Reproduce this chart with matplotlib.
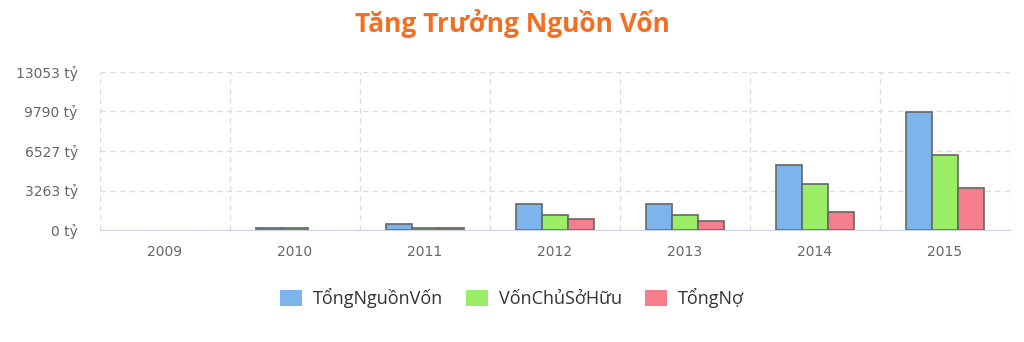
import matplotlib

matplotlib.use("Agg")

import matplotlib.pyplot as plt
import numpy as np

years = ["2009", "2010", "2011", "2012", "2013", "2014", "2015"]
tong_nguon_von = [0, 200, 470, 2150, 2150, 5370, 9750]
von_chu_so_huu = [0, 200, 200, 1240, 1240, 3800, 6170]
tong_no = [0, 0, 200, 900, 770, 1460, 3490]
y_ticks = [0, 3263, 6527, 9790, 13053]

series = [
    ("TổngNguồnVốn", tong_nguon_von, "#7cb5ec"),
    ("VốnChủSởHữu", von_chu_so_huu, "#99ee66"),
    ("TổngNợ", tong_no, "#f47f8a"),
]

plt.rcParams["font.family"] = ["Open Sans", "DejaVu Sans"]

fig = plt.figure(figsize=(10.24, 3.42), dpi=100)
ax = fig.add_axes([100 / 1024, 112 / 342, 910 / 1024, 158 / 342])

x = np.arange(len(years))
width = 0.2
for i, (name, values, color) in enumerate(series):
    # zero-height bars get no outline, like the original
    lw = [1.2 if v > 0 else 0 for v in values]
    ax.bar(x + (i - 1) * width, values, width, color=color, edgecolor="#666666",
           linewidth=lw, label=name, zorder=3)

ax.set_xlim(-0.5, len(years) - 0.5)
ax.set_ylim(0, y_ticks[-1])
ax.set_yticks(y_ticks)
ax.set_yticklabels([f"{v} tỷ" for v in y_ticks], family="DejaVu Sans")
ax.set_xticks(x)
ax.set_xticklabels(years, family="DejaVu Sans")
ax.tick_params(axis="both", length=0, labelsize=10, colors="#666666")
ax.tick_params(axis="y", pad=16)
ax.tick_params(axis="x", pad=11)

ax.grid(axis="y", color="#dddddd", linestyle=(0, (4, 3)), linewidth=1, zorder=0)
ax.set_xticks(np.arange(len(years) + 1) - 0.5, minor=True)
ax.tick_params(axis="x", which="minor", length=0)
ax.grid(axis="x", which="minor", color="#dddddd", linestyle=(0, (4, 3)), linewidth=1, zorder=0)
ax.grid(axis="x", which="major", visible=False)

for side in ["top", "left", "right"]:
    ax.spines[side].set_visible(False)
ax.spines["bottom"].set_color("#ccd6eb")
ax.spines["bottom"].set_zorder(4)

fig.text(0.5, 1 - 24 / 342, "Tăng Trưởng Nguồn Vốn", ha="center", va="center",
         fontsize=19, fontweight="bold", color="#f26f21")

leg = fig.legend(loc="center", bbox_to_anchor=(0.5, 1 - 298 / 342), ncol=3,
                 frameon=False, fontsize=13, handlelength=1.2, handleheight=1.0,
                 columnspacing=1.3, handletextpad=0.6)
for text in leg.get_texts():
    text.set_color("#333333")
for h in leg.legend_handles:
    h.set_edgecolor("none")

fig.savefig("out.png", dpi=100)
